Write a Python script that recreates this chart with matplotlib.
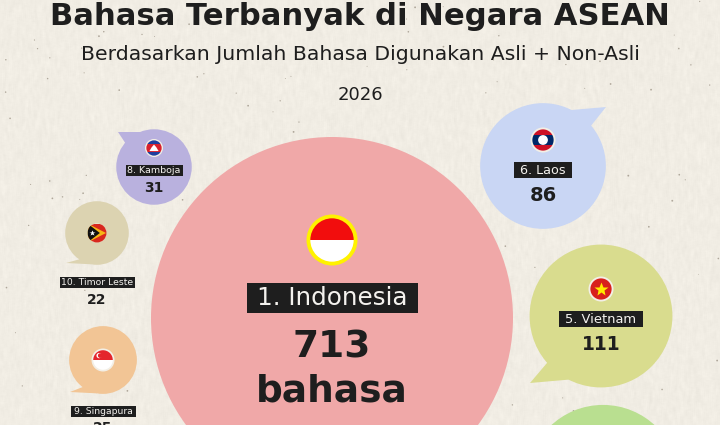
import numpy as np
import matplotlib
matplotlib.use("Agg")
from matplotlib import pyplot as plt
from matplotlib.patches import Circle, Rectangle, Polygon

plt.rcParams['font.family'] = ['DejaVu Sans']

title = "Bahasa Terbanyak di Negara ASEAN"
subtitle = "Berdasarkan Jumlah Bahasa Digunakan Asli + Non-Asli"
year = "2026"

# jumlah bahasa per negara
countries = ["1. Indonesia", "6. Laos", "5. Vietnam", "8. Kamboja", "10. Timor Leste", "9. Singapura", "4. "]
values = [713, 86, 111, 31, 22, 25, 126]
colors = ["#F0A8A8", "#C9D6F4", "#D9DC8E", "#B9B1DE", "#DCD3B1", "#F2C595", "#B9DF90"]

# layout in pixels
centers = [(332, 318), (543, 166), (601, 316), (154, 167), (97, 233), (103, 360), (603, 481)]
tails = [None, (606, 107), (530, 383), (118, 132), (66, 263), (70, 392), None]
tail_angles = [None, (-63, -40), (139, 117), (-112, -140), (124, 100), (127, 100), None]
label_y = [298, 170, 319, 170, 282, 411, None]
label_size = [17.7, 9.2, 9.4, 6.8, 6.7, 6.7, None]
label_w = [171, 58, 84, 57, 75, 65, None]
label_h = [30, 16, 16, 11, 11, 11, None]
value_y = [348, 195, 345, 188, 300, 428.5, None]
value_size = [27, 14, 13.5, 10, 10, 10, None]
flag_y = [240, 140, 289, 148, 233, 360, None]
flag_r = [25.5, 12.5, 12.5, 9, 9.5, 11.5, None]

dark = "#1E1E1E"
# r = k * sqrt(v), luas lingkaran sebanding jumlah bahasa
k = 181 / np.sqrt(713)

fig = plt.figure(figsize=(7.2, 4.25), dpi=100)
ax = fig.add_axes([0, 0, 1, 1])
ax.set_xlim(0, 720)
ax.set_ylim(425, 0)
ax.axis("off")

# tekstur kertas
rng = np.random.default_rng(7)
grain = rng.normal(0, 1, (425, 720))
grain = np.apply_along_axis(lambda c: np.convolve(c, np.ones(7) / 7, mode="same"), 0, grain)
grain = np.apply_along_axis(lambda c: np.convolve(c, np.ones(3) / 3, mode="same"), 1, grain)
paper = np.array([241, 237, 228])[None, None, :] + (grain * 7)[:, :, None]
ax.imshow(np.clip(paper, 0, 255).astype(np.uint8), extent=(0, 720, 425, 0), aspect="auto", zorder=0)
ax.scatter(rng.uniform(0, 720, 120), rng.uniform(0, 425, 120), s=rng.uniform(0.3, 1.8, 120),
           color="#6E6252", alpha=0.5, linewidths=0, zorder=1)


def flag_clip(patch, cx, cy, r):
    patch.set_clip_path(Circle((cx, cy), r, transform=ax.transData))


def draw_flag(i, cx, cy, r):
    ring = "#FFF200" if i == 0 else "#F3EFE6"
    inner = r if i == 4 else r * 0.85
    ax.add_patch(Circle((cx, cy), r, fc=ring, ec="none", zorder=5))
    def band(y0, y1, col):
        p = Rectangle((cx - r, cy + y0 * inner), 2 * r, (y1 - y0) * inner, fc=col, ec="none", zorder=6)
        ax.add_patch(p)
        flag_clip(p, cx, cy, inner)
    if i == 0:
        band(-1, 0, "#F20D0D")
        band(0, 1, "#FFFFFF")
    elif i == 1:
        band(-1, -0.5, "#CE1126")
        band(-0.5, 0.5, "#002868")
        band(0.5, 1, "#CE1126")
        ax.add_patch(Circle((cx, cy), inner * 0.46, fc="white", ec="none", zorder=7))
    elif i == 2:
        band(-1, 1, "#D8201C")
        ax.plot(cx, cy, marker="*", ms=r * 0.8, color="#FFEB00", mec="none", zorder=7)
    elif i == 3:
        band(-1, -0.5, "#1F3F9E")
        band(-0.5, 0.5, "#D8202C")
        band(0.5, 1, "#1F3F9E")
        ax.add_patch(Polygon([(cx - inner * .6, cy + inner * .4), (cx - inner * .3, cy - inner * .1),
                              (cx, cy - inner * .45), (cx + inner * .3, cy - inner * .1),
                              (cx + inner * .6, cy + inner * .4)], fc="white", ec="none", zorder=7))
    elif i == 4:
        band(-1, 1, "#D8281E")
        t1 = Polygon([(cx - r, cy - inner), (cx + inner * .95, cy), (cx - r, cy + inner)], fc="#F7B615", ec="none", zorder=7)
        t2 = Polygon([(cx - r, cy - inner), (cx + inner * .3, cy), (cx - r, cy + inner)], fc="#111111", ec="none", zorder=8)
        ax.add_patch(t1)
        ax.add_patch(t2)
        flag_clip(t1, cx, cy, inner)
        flag_clip(t2, cx, cy, inner)
        ax.plot(cx - inner * .5, cy, marker="*", ms=r * 0.45, color="white", mec="none", zorder=9)
    elif i == 5:
        band(-1, 0, "#E4252C")
        band(0, 1, "#FFFFFF")
        ax.add_patch(Circle((cx - inner * .4, cy - inner * .45), inner * .27, fc="white", ec="none", zorder=7))
        ax.add_patch(Circle((cx - inner * .28, cy - inner * .45), inner * .24, fc="#E4252C", ec="none", zorder=8))


for i, (name, v, col) in enumerate(zip(countries, values, colors)):
    cx, cy = centers[i]
    r = k * np.sqrt(v)
    ax.add_patch(Circle((cx, cy), r, fc=col, ec="none", zorder=2))

    if tails[i] is not None:
        a1, a2 = np.radians(tail_angles[i])
        # ekor balon: ujung + dua titik di tepi lingkaran
        a = (cx + r * np.cos(a1), cy + r * np.sin(a1))
        b = (cx + r * np.cos(a2), cy + r * np.sin(a2))
        ax.add_patch(Polygon([a, tails[i], b, (cx, cy)], fc=col, ec="none", zorder=2))

    if label_y[i] is None:
        continue

    draw_flag(i, cx, flag_y[i], flag_r[i])

    w, h = label_w[i], label_h[i]
    ax.add_patch(Rectangle((cx - w / 2, label_y[i] - h / 2), w, h, fc=dark, ec="none", zorder=5))
    ax.text(cx, label_y[i] + 0.3, name, color="#F4F2EE", fontsize=label_size[i], ha="center", va="center", zorder=6)
    ax.text(cx, value_y[i], str(v), color=dark, fontsize=value_size[i], fontweight="bold", ha="center", va="center", zorder=6)

ax.text(332, 392, "bahasa", color=dark, fontsize=value_size[0], fontweight="bold", ha="center", va="center", zorder=6)

ax.text(360, 16, title, color=dark, fontsize=22.1, fontweight="bold", ha="center", va="center", zorder=6)
ax.text(360, 54, subtitle, color=dark, fontsize=14.7, ha="center", va="center", zorder=6)
ax.text(360, 95, year, color=dark, fontsize=13, ha="center", va="center", zorder=6)

fig.savefig("out.png", dpi=100)
